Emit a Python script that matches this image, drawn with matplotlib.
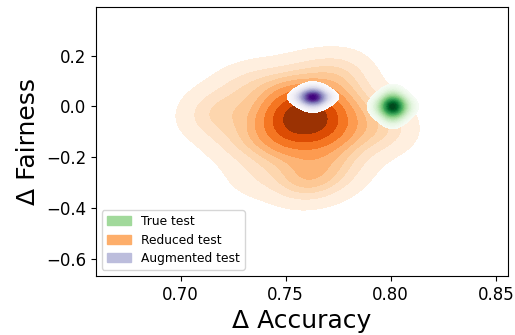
import numpy as np
import matplotlib.pyplot as plt
import seaborn as sns
from matplotlib.patches import Patch

# (delta accuracy, delta fairness) pairs per test set
true_acc = [0.8012, 0.8008, 0.8015, 0.8006, 0.8011, 0.8009,
            0.8082, 0.8046, 0.8010, 0.7974, 0.7938, 0.7974, 0.8010, 0.8046]
true_fair = [0.002, -0.003, -0.001, 0.004, -0.005, 0.001,
             0.000, 0.026, 0.052, 0.026, 0.000, -0.026, -0.052, -0.026]

reduced_acc = [0.750, 0.758, 0.766, 0.772, 0.748, 0.756, 0.764, 0.770, 0.735, 0.778,
               0.745, 0.768, 0.728, 0.783, 0.752, 0.760, 0.725, 0.790, 0.740, 0.775,
               0.760, 0.715, 0.795, 0.735, 0.780, 0.762, 0.712, 0.778, 0.755, 0.800,
               0.728, 0.772, 0.752, 0.760, 0.754, 0.764, 0.746, 0.768, 0.760, 0.750]
reduced_fair = [-0.02, -0.01, -0.03, -0.06, -0.07, -0.05, -0.08, -0.11, -0.12, -0.08,
                -0.19, -0.18, -0.02, 0.03, 0.08, -0.25, -0.15, -0.12, 0.10, 0.10,
                -0.29, 0.00, -0.02, -0.28, -0.22, 0.14, -0.06, 0.15, -0.32, -0.10,
                0.08, -0.29, -0.11, -0.12, 0.02, 0.01, -0.04, 0.00, -0.04, -0.13]

aug_acc = [0.7632, 0.7627, 0.7635, 0.7625, 0.7631, 0.7629,
           0.7702, 0.7666, 0.7630, 0.7594, 0.7558, 0.7594, 0.7630, 0.7666]
aug_fair = [0.039, 0.034, 0.036, 0.040, 0.032, 0.038,
            0.037, 0.055, 0.073, 0.055, 0.037, 0.019, 0.001, 0.019]

labels = ["True test", "Reduced test", "Augmented test"]
legend_colors = ["#a1d99b", "#fdae6b", "#bcbddc"]

fig, ax = plt.subplots(figsize=(5.15, 3.35), dpi=100)

sns.kdeplot(x=reduced_acc, y=reduced_fair, fill=True, cmap="Oranges", ax=ax)
sns.kdeplot(x=true_acc, y=true_fair, fill=True, cmap="Greens", levels=40, bw_adjust=1.5, ax=ax)
sns.kdeplot(x=aug_acc, y=aug_fair, fill=True, cmap="Purples", levels=40, bw_adjust=1.5, ax=ax)

ax.set_xlim(0.6597, 0.8557)
ax.set_ylim(-0.669, 0.392)
ax.set_xticks([0.70, 0.75, 0.80, 0.85])
ax.set_yticks([-0.6, -0.4, -0.2, 0.0, 0.2])
ax.tick_params(labelsize=12)
ax.set_xlabel("Δ Accuracy", fontsize=18)
ax.set_ylabel("Δ Fairness", fontsize=18)

handles = [Patch(color=c, label=l) for c, l in zip(legend_colors, labels)]
ax.legend(handles=handles, loc="lower left", fontsize=8.8, labelspacing=0.45)

fig.subplots_adjust(left=0.186, right=0.986, top=0.979, bottom=0.176)
fig.savefig("out.png")
